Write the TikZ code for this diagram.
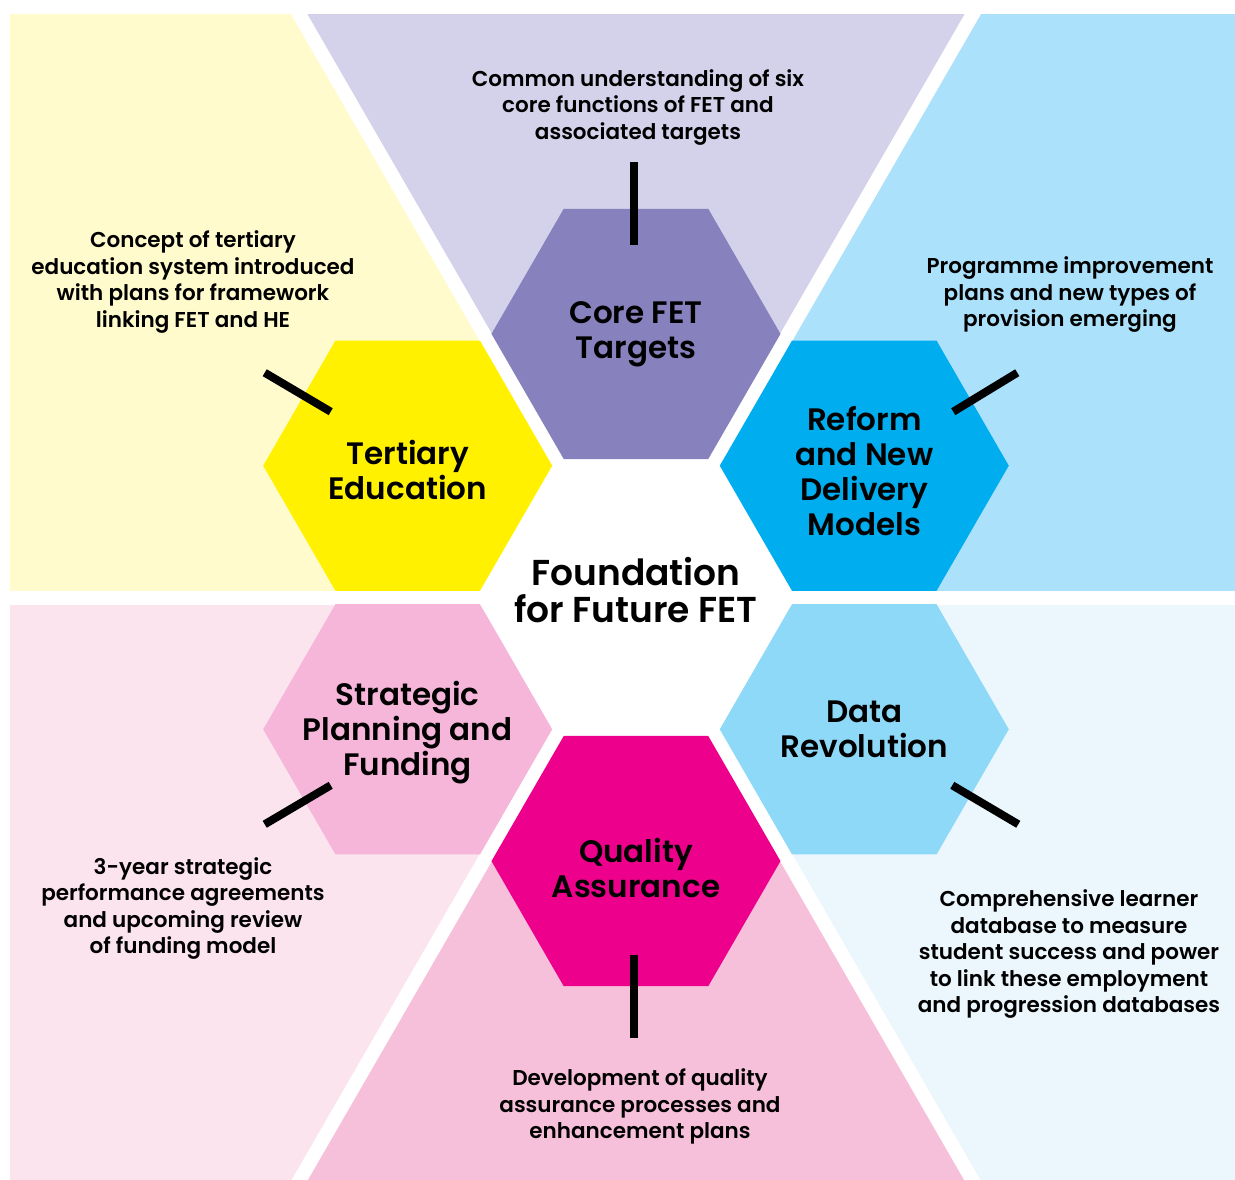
\documentclass[tikz,border=0pt]{standalone}
\usepackage{fontspec}
\setmainfont{Poppins}[BoldFont={Poppins SemiBold}]
\usepackage{xcolor}
\usepackage{tikz}
\usetikzlibrary{positioning,shapes.geometric,calc}

\definecolor{coreBg}{HTML}{D4D1EA}
\definecolor{tertBg}{HTML}{FFFBCC}
\definecolor{reformBg}{HTML}{ABE1FA}
\definecolor{stratBg}{HTML}{FBE4EE}
\definecolor{qualBg}{HTML}{F7C0DA}
\definecolor{dataBg}{HTML}{EBF7FD}
\definecolor{coreHex}{HTML}{8781BD}
\definecolor{tertHex}{HTML}{FFF100}
\definecolor{reformHex}{HTML}{00AEEF}
\definecolor{stratHex}{HTML}{F6B6DA}
\definecolor{qualHex}{HTML}{EC008C}
\definecolor{dataHex}{HTML}{8ED8F8}

\begin{document}
\begin{tikzpicture}[x=1pt, y=1pt,
    hexcell/.style={regular polygon, regular polygon sides=6, minimum size=289pt, inner sep=0pt},
    hexlabel/.style={align=center, inner sep=0pt, font=\fontsize{31}{35}\selectfont\bfseries},
    note/.style={align=center, font=\fontsize{21.5}{26.5}\selectfont\bfseries},
    tick/.style={line width=8pt},
    gap/.style={white, line width=14pt}]
    \useasboundingbox (-636,-581.5) rectangle (599,597.5);

    % background sectors
    \begin{scope}
        \clip (-626,-581.5) rectangle (599,582.5);
        \fill[reformBg] (0,0) -- (0:1400) -- (60:1400) -- cycle;
        \fill[coreBg] (0,0) -- (60:1400) -- (120:1400) -- cycle;
        \fill[tertBg] (0,0) -- (120:1400) -- (180:1400) -- cycle;
        \fill[stratBg] (0,0) -- (180:1400) -- (240:1400) -- cycle;
        \fill[qualBg] (0,0) -- (240:1400) -- (300:1400) -- cycle;
        \fill[dataBg] (0,0) -- (300:1400) -- (360:1400) -- cycle;
        \foreach \a in {0,60,...,300}
            \draw[gap] (0,0) -- (\a:1400);
    \end{scope}

    % hexagons
    \node[hexcell, fill=white, minimum size=340pt] (found) at (0,0) {};
    \node[hexcell, fill=coreHex] (core) at (90:263.6) {};
    \node[hexcell, fill=tertHex] (tert) at (150:263.6) {};
    \node[hexcell, fill=reformHex] (reform) at (30:263.6) {};
    \node[hexcell, fill=stratHex] (strat) at (210:263.6) {};
    \node[hexcell, fill=dataHex] (data) at (330:263.6) {};
    \node[hexcell, fill=qualHex] (qual) at (270:263.6) {};

    % hexagon labels
    \node[hexlabel, font=\fontsize{36}{37}\selectfont\bfseries] (foundText) at ($(found)+(0,7)$) {Foundation\\for Future FET};
    \node[hexlabel] (coreText) at (core) {Core FET\\Targets};
    \node[hexlabel] (tertText) at ($(tert)+(0,-4)$) {Tertiary\\Education};
    \node[hexlabel] (reformText) at ($(reform)+(0,-5)$) {Reform\\and New\\Delivery\\Models};
    \node[hexlabel] (stratText) at ($(strat)+(0,-3)$) {Strategic\\Planning and\\Funding};
    \node[hexlabel] (dataText) at (data) {Data\\Revolution};
    \node[hexlabel] (qualText) at ($(qual)+(0,-7)$) {Quality\\Assurance};

    % ticks
    \draw[tick] ($(core)+(-2,89)$) -- ($(core)+(-2,172)$);
    \draw[tick] ($(qual)+(-2,-94)$) -- ($(qual)+(-2,-177)$);
    \draw[tick] ($(tert)+(-77,54)$) -- ($(tert)+(-143,93)$);
    \draw[tick] ($(reform)+(89,54)$) -- ($(reform)+(153,93)$);
    \draw[tick] ($(strat)+(-77,-56)$) -- ($(strat)+(-143,-95)$);
    \draw[tick] ($(data)+(88,-56)$) -- ($(data)+(154,-95)$);

    % notes
    \node[note] (coreNote) at (2,490) {Common understanding of six\\core functions of FET and\\associated targets};
    \node[note] (tertNote) at (-443,315.5) {Concept of tertiary\\education system introduced\\with plans for framework\\linking FET and HE};
    \node[note] (reformNote) at (434,302.5) {Programme improvement\\plans and new types of\\provision emerging};
    \node[note] (stratNote) at (-453,-311) {3-year strategic\\performance agreements\\and upcoming review\\of funding model};
    \node[note] (qualNote) at (4,-509) {Development of quality\\assurance processes and\\enhancement plans};
    \node[note] (dataNote) at (433,-356.5) {Comprehensive learner\\database to measure\\student success and power\\to link these employment\\and progression databases};
\end{tikzpicture}
\end{document}
